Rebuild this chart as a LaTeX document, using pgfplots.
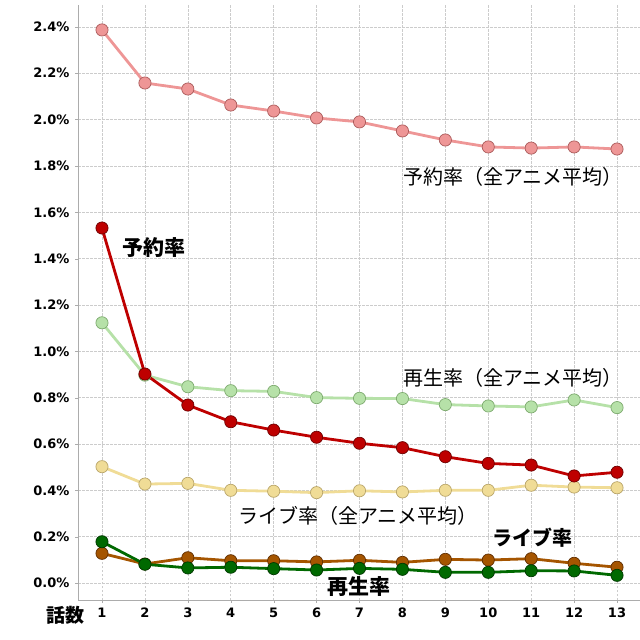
\documentclass[border=0pt]{standalone}
\usepackage{fontspec}
\setmainfont{DejaVu Sans}
\newfontfamily\jp{Noto Sans CJK JP}
\usepackage{pgfplots}
\pgfplotsset{compat=1.18}

\definecolor{avgres}{RGB}{238,150,150}
\definecolor{avgresedge}{RGB}{170,90,90}
\definecolor{res}{RGB}{190,0,0}
\definecolor{resedge}{RGB}{110,0,0}
\definecolor{avgplay}{RGB}{182,225,168}
\definecolor{avgplayedge}{RGB}{125,170,110}
\definecolor{avglive}{RGB}{240,220,150}
\definecolor{avgliveedge}{RGB}{185,165,105}
\definecolor{live}{RGB}{165,85,0}
\definecolor{liveedge}{RGB}{95,45,0}
\definecolor{play}{RGB}{0,105,0}
\definecolor{playedge}{RGB}{0,55,0}

\begin{document}
\begin{tikzpicture}
\useasboundingbox (0,0) rectangle (640pt,640pt);
\begin{axis}[
  at={(78pt,40pt)}, anchor=south west,
  scale only axis,
  width=562pt, height=595pt,
  xmin=0.441, xmax=13.535,
  ymin=-0.0734, ymax=2.4946,
  xtick={1,...,13},
  ytick={0,0.2,...,2.41},
  yticklabel={\pgfmathprintnumber[fixed,fixed zerofill,precision=1]{\tick}\%},
  /pgf/number format/assume math mode=true,
  ticklabel style={font=\fontsize{13}{15}\selectfont\bfseries},
  xticklabel style={yshift=-1pt},
  yticklabel style={xshift=-2pt},
  axis x line*=bottom, axis y line*=left,
  axis line style={-, gray!65, line width=0.8pt},
  tick align=outside, major tick length=3pt,
  tick style={gray!65},
  grid=major,
  major grid style={gray!40, dash pattern=on 2.5pt off 1.5pt, line width=0.6pt},
  clip=false,
  every axis plot/.append style={line width=2.8pt, mark=*, mark size=6.1pt},
]
% averages across all anime
\addplot[avgres, mark options={fill=avgres, draw=avgresedge, line width=0.7pt}] coordinates {
(1,2.387) (2,2.158) (3,2.132) (4,2.063) (5,2.037) (6,2.007) (7,1.990)
(8,1.951) (9,1.912) (10,1.882) (11,1.877) (12,1.882) (13,1.873)};
\addplot[avgplay, mark options={fill=avgplay, draw=avgplayedge, line width=0.7pt}] coordinates {
(1,1.123) (2,0.897) (3,0.847) (4,0.830) (5,0.827) (6,0.800) (7,0.797)
(8,0.796) (9,0.770) (10,0.764) (11,0.760) (12,0.790) (13,0.757)};
\addplot[avglive, mark options={fill=avglive, draw=avgliveedge, line width=0.7pt}] coordinates {
(1,0.502) (2,0.427) (3,0.430) (4,0.400) (5,0.396) (6,0.390) (7,0.398)
(8,0.393) (9,0.400) (10,0.400) (11,0.422) (12,0.414) (13,0.411)};
% this title
\addplot[res, mark options={fill=res, draw=resedge, line width=0.7pt}] coordinates {
(1,1.532) (2,0.902) (3,0.768) (4,0.696) (5,0.660) (6,0.629) (7,0.603)
(8,0.584) (9,0.545) (10,0.516) (11,0.509) (12,0.462) (13,0.478)};
\addplot[live, mark options={fill=live, draw=liveedge, line width=0.7pt}] coordinates {
(1,0.128) (2,0.082) (3,0.109) (4,0.096) (5,0.096) (6,0.091) (7,0.098)
(8,0.089) (9,0.102) (10,0.099) (11,0.105) (12,0.085) (13,0.068)};
\addplot[play, mark options={fill=play, draw=playedge, line width=0.7pt}] coordinates {
(1,0.178) (2,0.081) (3,0.065) (4,0.068) (5,0.062) (6,0.056) (7,0.063)
(8,0.059) (9,0.046) (10,0.046) (11,0.053) (12,0.052) (13,0.033)};

\node[anchor=west, inner sep=0, font=\jp\fontsize{20}{22}\selectfont] at (axis cs:8.01,1.752) {予約率（全アニメ平均）};
\node[anchor=west, inner sep=0, font=\jp\fontsize{20}{22}\selectfont] at (axis cs:8.01,0.885) {再生率（全アニメ平均）};
\node[anchor=west, inner sep=0, font=\jp\fontsize{20}{22}\selectfont] at (axis cs:4.17,0.289) {ライブ率（全アニメ平均）};
\node[anchor=west, inner sep=0, font=\jp\bfseries\fontsize{21}{23}\selectfont] at (axis cs:1.466,1.446) {予約率};
\node[anchor=west, inner sep=0, font=\jp\bfseries\fontsize{20}{22}\selectfont] at (axis cs:10.09,0.194) {ライブ率};
\node[anchor=west, inner sep=0, font=\jp\bfseries\fontsize{21}{23}\selectfont] at (axis cs:6.24,-0.017) {再生率};
\node[inner sep=0, font=\jp\bfseries\fontsize{19}{21}\selectfont] at (axis cs:0.161,-0.138) {話数};
\end{axis}
\end{tikzpicture}
\end{document}
